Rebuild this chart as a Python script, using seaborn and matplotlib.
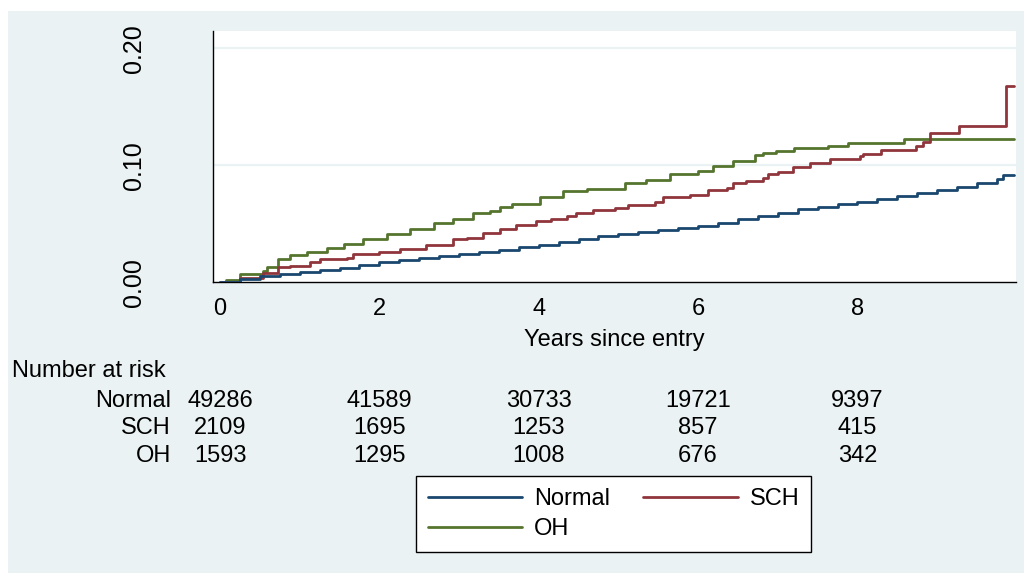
import numpy as np
import pandas as pd
import matplotlib
matplotlib.use("Agg")
import matplotlib.pyplot as plt
import matplotlib.transforms as mtrans
from matplotlib.patches import Rectangle
from matplotlib.lines import Line2D
import seaborn as sns

# ---------------- data ----------------
groups = ["Normal", "SCH", "OH"]
colors = {"Normal": "#1A476F", "SCH": "#90353B", "OH": "#55752F"}

normal_t = [0, 0.25, 0.5, 0.75, 1.0, 1.25, 1.5, 1.75, 2.0, 2.25, 2.5, 2.75, 3.0, 3.25,
            3.5, 3.75, 4.0, 4.25, 4.5, 4.75, 5.0, 5.25, 5.5, 5.75, 6.0, 6.25, 6.5, 6.75,
            7.0, 7.25, 7.5, 7.75, 8.0, 8.25, 8.5, 8.75, 9.0, 9.25, 9.5, 9.75, 9.83, 9.97]
normal_v = [0, 0.0025, 0.005, 0.0068, 0.0085, 0.0105, 0.0125, 0.0148, 0.017, 0.019, 0.021,
            0.0228, 0.0245, 0.0262, 0.028, 0.030, 0.032, 0.0345, 0.037, 0.040, 0.0415,
            0.043, 0.0448, 0.0465, 0.0484, 0.051, 0.0545, 0.057, 0.0595, 0.0625, 0.0645,
            0.0665, 0.069, 0.0715, 0.074, 0.0765, 0.079, 0.0815, 0.085, 0.0886, 0.0917, 0.0917]

sch_t = [0, 0.25, 0.54, 0.73, 0.88, 1.13, 1.25, 1.59, 1.67, 2.0, 2.26, 2.59, 2.93, 3.1,
         3.30, 3.51, 3.72, 3.97, 4.15, 4.35, 4.47, 4.68, 4.96, 5.12, 5.46, 5.56, 5.90,
         6.13, 6.36, 6.44, 6.6, 6.82, 6.88, 7.0, 7.19, 7.40, 7.65, 8.03, 8.07, 8.30, 8.74,
         8.82, 8.91, 9.28, 9.87, 9.97]
sch_v = [0, 0.004, 0.0082, 0.013, 0.0142, 0.0174, 0.0197, 0.0208, 0.0245, 0.0255, 0.0288,
         0.0322, 0.0373, 0.038, 0.0421, 0.0456, 0.0493, 0.0524, 0.054, 0.057, 0.0595,
         0.0615, 0.0638, 0.0664, 0.0686, 0.0729, 0.075, 0.0786, 0.081, 0.0852, 0.0865,
         0.0895, 0.0929, 0.094, 0.0986, 0.1023, 0.1057, 0.1077, 0.11, 0.1128, 0.1165,
         0.12, 0.128, 0.1336, 0.168, 0.168]

oh_t = [0, 0.08, 0.25, 0.54, 0.59, 0.73, 0.88, 1.09, 1.34, 1.55, 1.80, 2.09, 2.38, 2.68,
        2.93, 3.18, 3.39, 3.51, 3.66, 4.02, 4.30, 4.60, 5.08, 5.35, 5.65, 6.00, 6.19,
        6.44, 6.71, 6.82, 6.98, 7.21, 7.63, 7.88, 8.59, 9.97]
oh_v = [0, 0.0023, 0.0068, 0.0097, 0.013, 0.0202, 0.023, 0.0259, 0.0293, 0.033, 0.0373,
        0.0416, 0.0459, 0.051, 0.0544, 0.0592, 0.061, 0.0644, 0.067, 0.073, 0.078, 0.080,
        0.085, 0.0877, 0.0923, 0.0951, 0.0997, 0.1037, 0.109, 0.1108, 0.1125, 0.1145,
        0.1165, 0.119, 0.1222, 0.1222]

risk_times = [0, 2, 4, 6, 8]
risk_normal = [49286, 41589, 30733, 19721, 9397]
risk_sch = [2109, 1695, 1253, 857, 415]
risk_oh = [1593, 1295, 1008, 676, 342]

x_ticks = [0, 2, 4, 6, 8]
y_ticks = [0.0, 0.1, 0.2]
y_ticklabels = ["0.00", "0.10", "0.20"]
x_label = "Years since entry"

# ---------------- figure ----------------
sns.set_theme(style="white")
plt.rcParams["font.family"] = ["Liberation Sans", "DejaVu Sans"]
plt.rcParams["text.color"] = "black"
plt.rcParams["axes.labelcolor"] = "black"
plt.rcParams["xtick.color"] = "black"
plt.rcParams["ytick.color"] = "black"

W, H = 1024, 573
fig = plt.figure(figsize=(W / 100, H / 100), dpi=100)
fig.patch.set_facecolor("white")
fig.add_artist(Rectangle((8 / W, 0), (W - 8) / W, (H - 11) / H,
                         transform=fig.transFigure, facecolor="#EAF2F3",
                         edgecolor="none", zorder=-10))

ax_l, ax_r, ax_t, ax_b = 213, 1016, 31, 282.3
ax = fig.add_axes([ax_l / W, 1 - ax_b / H, (ax_r - ax_l) / W, (ax_b - ax_t) / H])
ax.set_facecolor("white")

df = pd.concat([
    pd.DataFrame({"t": normal_t, "v": normal_v, "group": "Normal"}),
    pd.DataFrame({"t": sch_t, "v": sch_v, "group": "SCH"}),
    pd.DataFrame({"t": oh_t, "v": oh_v, "group": "OH"}),
], ignore_index=True)

for g in ["OH", "SCH", "Normal"]:
    sub = df[df["group"] == g]
    sns.lineplot(data=sub, x="t", y="v", ax=ax, color=colors[g], linewidth=2.0,
                 drawstyle="steps-post", estimator=None, sort=False, legend=False,
                 zorder=3)

for yv in [0.1, 0.2]:
    ax.axhline(yv, color="#EAF2F3", linewidth=1.6, zorder=1)

ax.set_xlim(-0.088, 9.99)
ax.set_ylim(0, 0.2148)
ax.set_xticks(x_ticks)
ax.set_xticklabels([str(x) for x in x_ticks])
ax.set_yticks(y_ticks)
ax.set_yticklabels(y_ticklabels, rotation=90, va="center")
ax.grid(False)

for s in ["top", "right"]:
    ax.spines[s].set_visible(False)
for s in ["left", "bottom"]:
    ax.spines[s].set_color("black")
    ax.spines[s].set_linewidth(1.0)

fs = 17
ax.tick_params(axis="both", which="major", direction="out", length=7, width=1.0,
               color="black", labelcolor="black")
ax.tick_params(axis="x", pad=4.5, labelsize=fs)
ax.tick_params(axis="y", pad=41, labelsize=18)
ax.set_xlabel("")
ax.set_ylabel("")
fig.text((ax_l + ax_r) / 2 / W, 1 - 346 / H, x_label, fontsize=fs,
         ha="center", va="baseline")

# ---------------- number at risk table ----------------
blend = mtrans.blended_transform_factory(ax.transData, fig.transFigure)
fig.text(12 / W, 1 - 376.7 / H, "Number at risk", fontsize=fs, ha="left", va="baseline")
rows = [("Normal", risk_normal, 406.7), ("SCH", risk_sch, 434.0), ("OH", risk_oh, 461.7)]
for name, vals, yb in rows:
    fig.text(171 / W, 1 - yb / H, name, fontsize=fs, ha="right", va="baseline")
    for t, n in zip(risk_times, vals):
        ax.text(t, 1 - yb / H, str(n), transform=blend, fontsize=fs,
                ha="center", va="baseline", clip_on=False)

# ---------------- legend (row-wise order: Normal, SCH / OH) ----------------
order = ["Normal", "OH", "SCH"]
handles = [Line2D([], [], color=colors[g], linewidth=2.0) for g in order]
leg = ax.legend(handles, order, loc="center", ncol=2,
                bbox_to_anchor=(613.5 / W, 1 - 514 / H), bbox_transform=fig.transFigure,
                fontsize=fs, frameon=True, fancybox=False, framealpha=1,
                edgecolor="black", facecolor="white", handlelength=4.0,
                handletextpad=0.5, columnspacing=1.4, labelspacing=0.35,
                borderpad=0.5, borderaxespad=0)
leg.get_frame().set_linewidth(1.0)

fig.savefig("out.png", dpi=100, facecolor=fig.get_facecolor())
